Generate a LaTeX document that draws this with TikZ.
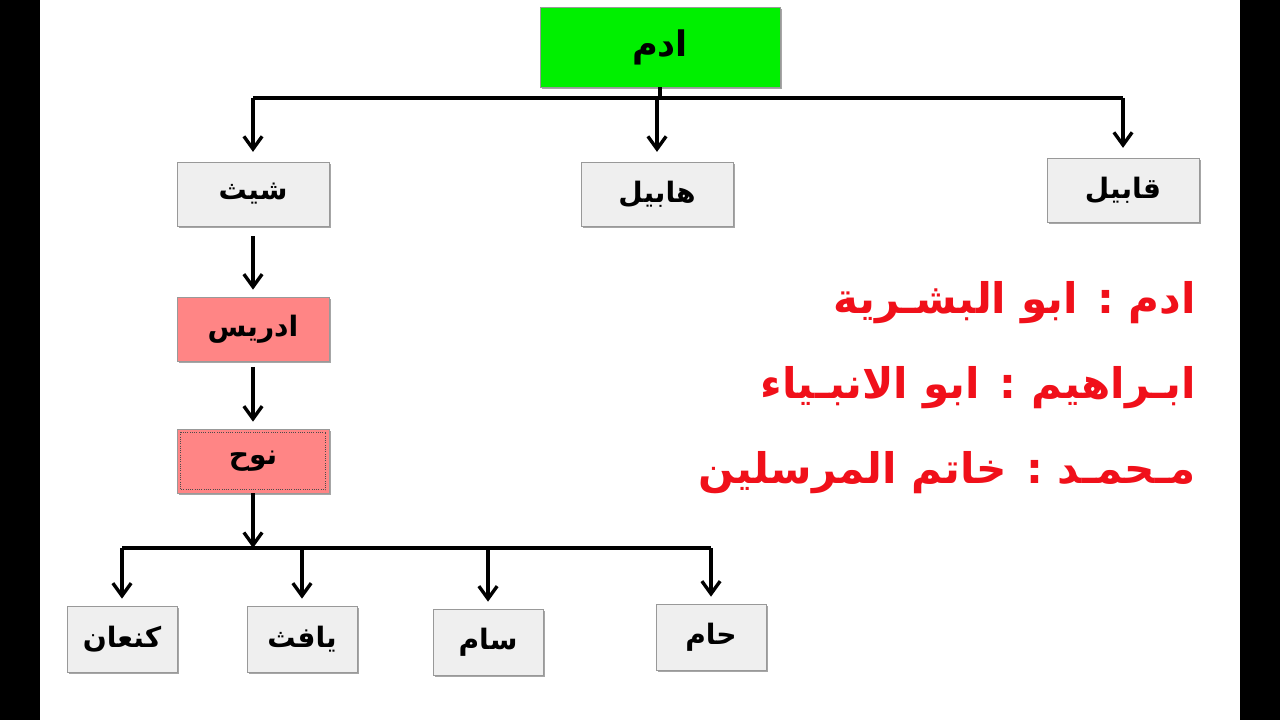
\documentclass[tikz,border=0pt]{standalone}
\usepackage{fontspec}
\usetikzlibrary{arrows.meta,shadows,positioning}
\TeXXeTstate=1
\newfontfamily\arabicfont[Script=Arabic]{DejaVu Sans}

\definecolor{adamgreen}{HTML}{00F000}
\definecolor{rosebox}{HTML}{FF8585}
\definecolor{greybox}{HTML}{EFEFEF}
\definecolor{titlered}{HTML}{F0101A}

\tikzset{
  person/.style={draw=gray!80, fill=greybox, minimum width=3.8cm, minimum height=1.6cm,
    font=\arabicfont\bfseries\fontsize{20}{24}\selectfont,
    drop shadow={shadow xshift=1.5pt, shadow yshift=-1.5pt, fill=gray!70, opacity=1}},
  child/.style={person, minimum width=2.75cm, minimum height=1.65cm},
  prophet/.style={person, fill=rosebox},
  bar/.style={line width=2.4pt},
  down/.style={bar, -{Straight Barb[length=9pt,width=13pt,line width=2.4pt]}},
  saying/.style={anchor=east, text=titlered, font=\arabicfont\bfseries\fontsize{30}{36}\selectfont}
}

\begin{document}
\begin{tikzpicture}[x=0.025cm, y=-0.025cm]
  \useasboundingbox (0,0) rectangle (1280,720);
  \fill[black] (0,0) rectangle (40,720);
  \fill[black] (1240,0) rectangle (1280,720);

  % first generation
  \node[person, fill=adamgreen, minimum width=6cm, minimum height=2cm,
        font=\arabicfont\bfseries\fontsize{25}{30}\selectfont] (adam) at (660,47) {\beginR ادم\endR};
  \node[person] (sheth) at (253,194) {\beginR شيث\endR};
  \node[person] (habil) at (657,194) {\beginR هابيل\endR};
  \node[person] (qabil) at (1123,190) {\beginR قابيل\endR};

  % line of sheth
  \node[prophet] (idris) at (253,329) {\beginR ادريس\endR};
  \node[prophet] (nuh) at (253,461) {\beginR نوح\endR};
  \draw[densely dotted, gray!60!black, line width=0.6pt]
    ([shift={(2.5pt,-2.5pt)}]nuh.north west) rectangle ([shift={(-2.5pt,2.5pt)}]nuh.south east);

  % sons of nuh
  \node[child] (kanaan) at (122,639) {\beginR كنعان\endR};
  \node[child] (yafith) at (302,639) {\beginR يافث\endR};
  \node[child] (sam) at (488,642) {\beginR سام\endR};
  \node[child] (ham) at (711,637) {\beginR حام\endR};

  % connectors
  \coordinate (topbar) at (660,98);
  \coordinate (lowbar) at (253,548);
  \draw[bar] (adam.south) -- (topbar);
  \draw[bar] (sheth.north |- topbar) -- (qabil.north |- topbar);
  \foreach \n in {sheth,habil,qabil}
    \draw[down, shorten >=7pt] (\n.north |- topbar) -- (\n.north);
  \draw[down, shorten <=7pt, shorten >=5pt] (sheth) -- (idris);
  \draw[down, shorten <=4pt, shorten >=5pt] (idris) -- (nuh);
  \draw[down] (nuh.south) -- (lowbar);
  \draw[bar] (kanaan.north |- lowbar) -- (ham.north |- lowbar);
  \foreach \n in {kanaan,yafith,sam,ham}
    \draw[down, shorten >=5pt] (\n.north |- lowbar) -- (\n.north);

  % titles
  \node[saying] (t1) at (1201,303) {\beginR ادم : ابو البشـرية\endR};
  \node[saying] (t2) at (1201,388) {\beginR ابـراهيم : ابو الانبـياء\endR};
  \node[saying] (t3) at (1201,473) {\beginR مـحمـد : خاتم المرسلين\endR};
\end{tikzpicture}
\end{document}
